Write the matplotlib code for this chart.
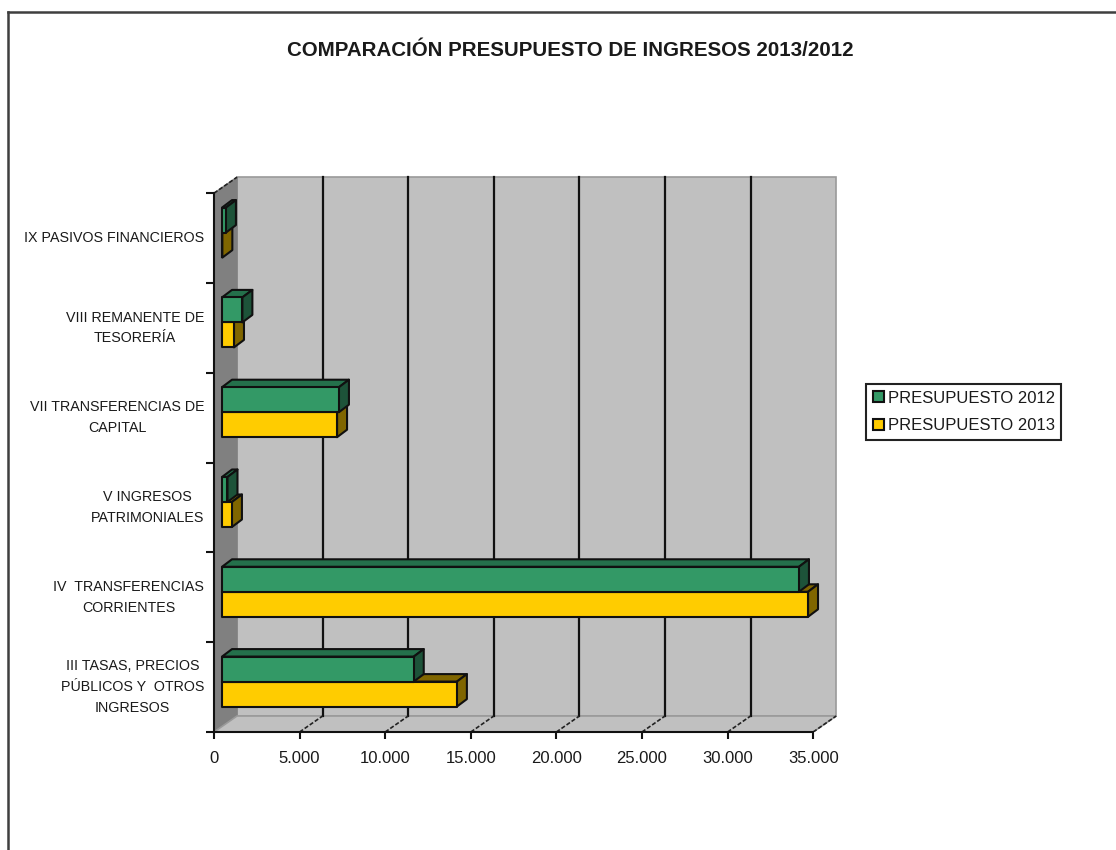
import matplotlib
matplotlib.use("Agg")
import matplotlib.pyplot as plt
from matplotlib.lines import Line2D
from matplotlib.patches import Patch

categories = ["III TASAS, PRECIOS\nPÚBLICOS Y  OTROS\nINGRESOS",
              "IV  TRANSFERENCIAS\nCORRIENTES",
              "V INGRESOS\nPATRIMONIALES",
              "VII TRANSFERENCIAS DE\nCAPITAL",
              "VIII REMANENTE DE\nTESORERÍA",
              "IX PASIVOS FINANCIEROS"]
presupuesto_2012 = [11200, 33700, 320, 6830, 1190, 230]
presupuesto_2013 = [13720, 34230, 580, 6720, 700, 20]
x_ticks = [0, 5000, 10000, 15000, 20000, 25000, 30000, 35000]
x_tick_labels = ["0", "5.000", "10.000", "15.000", "20.000", "25.000", "30.000", "35.000"]
title = "COMPARACIÓN PRESUPUESTO DE INGRESOS 2013/2012"

W, H = 1116, 850
PX_X = 85.6 / 5000      # pixels per value unit
PX_Y = 89.8             # pixels per category
L, R, B, T = 214, 850, 732, 170

def dx(px): return px / PX_X
def dy(px): return px / PX_Y

plt.rcParams["font.family"] = "Liberation Sans"

fig = plt.figure(figsize=(W / 100, H / 100), dpi=100, facecolor="white")
ax = fig.add_axes([L / W, 1 - B / H, (R - L) / W, (B - T) / H], facecolor="none")
ax.set_xlim(0, dx(R - L))
ax.set_ylim(0, dy(B - T))

# outer frame
for xs, ys in (([8, 8], [12, H]), ([8, W], [12, 12])):
    fig.add_artist(Line2D([x / W for x in xs], [1 - y / H for y in ys],
                          color="#3f3f3f", lw=1.8, solid_capstyle="projecting"))

xmax, ymax = x_ticks[-1], len(categories)
wx, wy = dx(23), dy(16)
EDGE = "#9a9a9a"

# walls
ax.fill([wx, xmax + wx, xmax + wx, wx], [wy, wy, ymax + wy, ymax + wy],
        fc="#C0C0C0", ec=EDGE, lw=1.2, zorder=1)
ax.fill([0, wx, wx, 0], [0, wy, ymax + wy, ymax], fc="#808080", ec="#808080", lw=1, zorder=1)
ax.fill([0, xmax, xmax + wx, wx], [0, 0, wy, wy], fc="#C0C0C0", ec=EDGE, lw=1.2, zorder=1)

# gridlines on the back wall and their dashed floor run
for v in x_ticks[1:-1]:
    ax.plot([v + wx, v + wx], [wy, ymax + wy], color="#111111", lw=1.6, zorder=2)
for v in x_ticks[1:]:
    ax.plot([v, v + wx], [0, wy], color="#222222", lw=1.2, ls=(0, (2.5, 1.2)), zorder=2)
ax.plot([0, wx], [ymax, ymax + wy], color="#222222", lw=1.2, ls=(0, (2.5, 1.2)), zorder=2)

# 3D bars
ox, oy = dx(8), dy(5.5)
bx, by = dx(10), dy(7.5)
bar_h = dy(25)

def bar(cat, value, upper, front, top, side, z):
    x0 = ox
    x1 = ox + value
    yc = cat + 0.5 + oy
    y0 = yc if upper else yc - bar_h
    y1 = y0 + bar_h
    kw = dict(ec="#101010", lw=1.5, joinstyle="round", zorder=z)
    ax.fill([x0, x1, x1 + bx, x0 + bx], [y1, y1, y1 + by, y1 + by], fc=top, **kw)
    ax.fill([x1, x1 + bx, x1 + bx, x1], [y0, y0 + by, y1 + by, y1], fc=side, **kw)
    ax.fill([x0, x1, x1, x0], [y0, y0, y1, y1], fc=front, **kw)

for i in range(len(categories)):
    bar(i, presupuesto_2013[i], False, "#FFCC00", "#806600", "#806600", 3 + i * 0.01)
    bar(i, presupuesto_2012[i], True, "#339966", "#24704B", "#1D5339", 4 + i * 0.01)

# axes
for s in ("top", "right"):
    ax.spines[s].set_visible(False)
for s in ("left", "bottom"):
    ax.spines[s].set_linewidth(1.5)
    ax.spines[s].set_color("#111111")
    ax.spines[s].set_zorder(5)
ax.spines["left"].set_bounds(0, ymax)
ax.spines["bottom"].set_bounds(0, xmax)

ax.set_xticks(x_ticks, x_tick_labels, fontsize=12, color="#1a1a1a")
ax.tick_params(axis="x", length=5, width=1.5, pad=9, color="#111111")
ax.set_yticks(range(ymax + 1), [""] * (ymax + 1))
ax.tick_params(axis="y", which="major", length=6, width=1.5, color="#111111")
ax.set_yticks([i + 0.5 for i in range(ymax)], minor=True)
ax.set_yticklabels(categories, minor=True, fontsize=10.3, va="center",
                   color="#1a1a1a", multialignment="center", linespacing=1.6)
ax.tick_params(axis="y", which="minor", length=0, pad=7)

fig.text(570 / W, 1 - 51 / H, title, ha="center", va="center",
         fontsize=14.8, fontweight="bold", color="#1a1a1a")

handles = [Patch(fc="#339966", ec="#111111", lw=1.5, label="PRESUPUESTO 2012"),
           Patch(fc="#FFCC00", ec="#111111", lw=1.5, label="PRESUPUESTO 2013")]
leg = fig.legend(handles=handles, loc="upper left",
                 bbox_to_anchor=(866 / W, 1 - 384 / H), borderaxespad=0,
                 fontsize=12, frameon=True, fancybox=False, framealpha=1,
                 edgecolor="#222222", handlelength=0.66, handleheight=0.66,
                 handletextpad=0.24, labelspacing=0.75, borderpad=0.4,
                 labelcolor="#1a1a1a")
leg.get_frame().set_linewidth(1.5)

fig.savefig("out.png", dpi=100, facecolor="white")
